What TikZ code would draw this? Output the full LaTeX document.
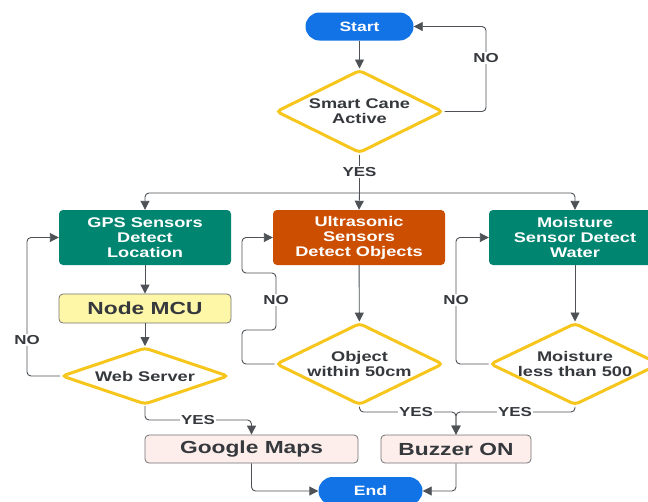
\documentclass[tikz,border=0pt]{standalone}
\usepackage{fontspec}
\setmainfont{Liberation Sans}[FakeStretch=1.3]
\usetikzlibrary{shapes.geometric,arrows.meta}

\definecolor{termblue}{HTML}{1273E6}
\definecolor{sensgreen}{HTML}{008571}
\definecolor{sensorange}{HTML}{CC4E00}
\definecolor{decyellow}{HTML}{F7C61C}
\definecolor{mcufill}{HTML}{FFF7A8}
\definecolor{outfill}{HTML}{FDEEEC}
\definecolor{flowline}{HTML}{4E5257}
\definecolor{darktext}{HTML}{35383C}

\tikzset{
    terminal/.style={rectangle, rounded corners=14pt, fill=termblue, text=white,
        minimum width=108pt, minimum height=28pt, font=\bfseries\fontsize{13.5}{15}\selectfont},
    sensor/.style={rectangle, rounded corners=4pt, text=white, align=center,
        minimum width=172pt, minimum height=55pt, font=\bfseries\fontsize{14}{15}\selectfont},
    outbox/.style={rectangle, rounded corners=4pt, draw=gray!90!black, line width=0.8pt,
        text=darktext, font=\bfseries\fontsize{17.5}{20}\selectfont, minimum height=28pt},
    decision/.style={diamond, shape aspect=2, inner sep=-10pt, draw=decyellow, line width=3pt,
        rounded corners=4pt, fill=white, text=darktext, align=center,
        font=\bfseries\fontsize{14}{15}\selectfont},
    flow/.style={draw=flowline, line width=0.9pt, rounded corners=4pt,
        -{Triangle[length=9pt,width=9pt]}},
    plain/.style={draw=flowline, line width=0.9pt, rounded corners=4pt},
    lbl/.style={fill=white, text=darktext, inner sep=1pt, font=\bfseries\fontsize{13}{14}\selectfont}
}

\begin{document}
\begin{tikzpicture}[x=1pt, y=-1pt]
    \useasboundingbox (0,0) rectangle (648,501);
    \clip (0,0) rectangle (648,501);
    \fill[white] (0,0) rectangle (648,501);

    % Draw the start and the first check
    \node[terminal] (start) at (359.5,26.5) {Start};
    \node[decision, minimum width=167pt, minimum height=83pt] (cane) at (359.5,111.5) {Smart Cane\\Active};

    % Draw the three sensor boxes
    \node[sensor, fill=sensgreen] (gps) at (145,237.5) {GPS Sensors\\Detect\\Location};
    \node[sensor, fill=sensorange] (ultra) at (359,237.5) {Ultrasonic\\Sensors\\Detect Objects};
    \node[sensor, fill=sensgreen] (moist) at (575,237.5) {Moisture\\Sensor Detect\\Water};

    % Draw the middle row
    \node[outbox, fill=mcufill, minimum width=172pt, minimum height=29pt] (mcu) at (145,308.5) {Node MCU};
    \node[decision, shape aspect=3, minimum width=167pt, minimum height=57pt] (web) at (145,376) {Web Server};
    \node[decision, minimum width=167pt, minimum height=82pt] (obj) at (359.5,364) {Object\\within 50cm};
    \node[decision, minimum width=170pt, minimum height=82pt] (moistq) at (575,364) {Moisture\\less than 500};

    % Draw the outputs and the end
    \node[outbox, fill=outfill, minimum width=213pt] (maps) at (251.5,449) {Google Maps};
    \node[outbox, fill=outfill, minimum width=150pt] (buzzer) at (456,449) {Buzzer ON};
    \node[terminal, minimum width=104pt] (end) at (370.5,491) {End};

    % Connect the top part
    \draw[flow] (start) -- (cane);
    \draw[flow] (cane.east) -- (486,111.5) |- (start.east);
    \node[lbl] (caneno) at (486,58) {NO};
    \draw[plain] (cane.south) -- (359.5,193);
    \draw[flow] (359.5,193) -| (gps.north);
    \draw[flow] (359.5,193) -- (ultra.north);
    \draw[flow] (359.5,193) -| (moist.north);
    \node[lbl] (caneyes) at (359.5,172) {YES};

    % Connect the GPS branch
    \draw[flow] (gps) -- (mcu);
    \draw[flow] (mcu) -- (web);
    \draw[flow] (web.west) -- (27,376) |- (gps.west);
    \node[lbl] (webno) at (27,340) {NO};
    \draw[flow] (web.south) -- (145,420) -| (maps.north);
    \node[lbl] (webyes) at (198,420) {YES};
    \draw[flow] (maps.south) |- (end.west);

    % Connect the ultrasonic branch
    \draw[flow] (ultra) -- (obj);
    \draw[flow] (obj.west) -- (242,364) -- (242,330) -- (276,330) -- (276,273) -- (242,273) |- (ultra.west);
    \node[lbl] (objno) at (276,300) {NO};
    \draw[flow] (obj.south) -- (359.5,412) -- (456,412) -- (buzzer.north);
    \node[lbl] (objyes) at (416,412) {YES};

    % Connect the moisture branch
    \draw[flow] (moist) -- (moistq);
    \draw[flow] (moistq.west) -- (456,364) |- (moist.west);
    \node[lbl] (moistno) at (456,300) {NO};
    \draw[flow] (moistq.south) -- (575,412) -- (456,412) -- (buzzer.north);
    \node[lbl] (moistyes) at (515,412) {YES};
    \draw[flow] (buzzer.south) |- (end.east);
\end{tikzpicture}
\end{document}
